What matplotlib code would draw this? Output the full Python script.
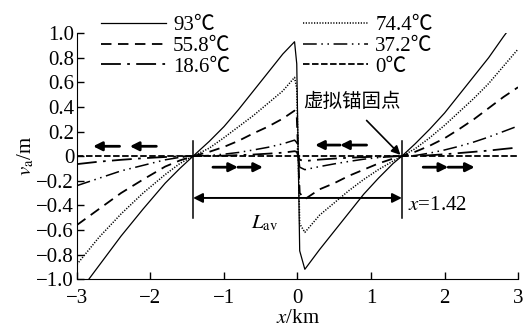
import matplotlib
matplotlib.use("Agg")
import matplotlib.pyplot as plt

plt.rcParams['font.family'] = ['Liberation Serif', 'Noto Sans CJK SC', 'DejaVu Sans']
plt.rcParams['mathtext.fontset'] = 'stix'
plt.rcParams['font.size'] = 15

# positions along the pipe (km)
x_km = [-3.0, -2.7, -2.4, -2.1, -1.8, -1.6, -1.42, -1.2, -1.0, -0.8, -0.6,
        -0.4, -0.2, -0.04, -0.01, 0.03, 0.10, 0.3, 0.5, 0.7, 0.9, 1.1, 1.3,
        1.42, 1.6, 1.8, 2.0, 2.2, 2.4, 2.6, 2.8, 3.0]

# axial displacement v_a (m) for each temperature
v_93 = [-1.13, -0.89, -0.65, -0.43, -0.22, -0.10, 0.0, 0.12, 0.24, 0.38, 0.53,
        0.68, 0.83, 0.93, 0.75, -0.77, -0.92, -0.76, -0.61, -0.46, -0.31, -0.18,
        -0.06, 0.0, 0.10, 0.22, 0.35, 0.50, 0.65, 0.80, 0.97, 1.13]
v_744 = [-0.88, -0.66, -0.47, -0.30, -0.15, -0.06, 0.0, 0.065, 0.15, 0.24, 0.33,
         0.43, 0.53, 0.64, 0.55, -0.55, -0.62, -0.48, -0.38, -0.28, -0.19, -0.11,
         -0.04, 0.0, 0.06, 0.15, 0.25, 0.36, 0.47, 0.59, 0.73, 0.87]
v_558 = [-0.56, -0.43, -0.30, -0.19, -0.085, -0.035, 0.0, 0.035, 0.075, 0.125,
         0.185, 0.24, 0.305, 0.37, 0.32, -0.30, -0.35, -0.27, -0.22, -0.16, -0.11,
         -0.06, -0.02, 0.0, 0.035, 0.085, 0.145, 0.22, 0.30, 0.39, 0.48, 0.56]
v_372 = [-0.24, -0.18, -0.12, -0.075, -0.03, -0.01, 0.0, 0.005, 0.016, 0.03,
         0.05, 0.072, 0.10, 0.13, 0.11, -0.09, -0.11, -0.085, -0.063, -0.043,
         -0.025, -0.012, -0.003, 0.0, 0.005, 0.025, 0.05, 0.08, 0.115, 0.155,
         0.20, 0.245]
v_186 = [-0.065, -0.045, -0.03, -0.017, -0.007, -0.002, 0.0, 0.001, 0.004, 0.008,
         0.013, 0.02, 0.028, 0.04, 0.035, -0.03, -0.04, -0.028, -0.02, -0.013,
         -0.008, -0.004, -0.001, 0.0, 0.002, 0.007, 0.015, 0.025, 0.035, 0.045,
         0.058, 0.07]
v_0 = [0.0] * len(x_km)

x_anchor = 1.42

fig = plt.figure(figsize=(5.27, 3.28), dpi=100)
ax = fig.add_axes([0.146, 0.149, 0.837, 0.750])

ax.plot(x_km, v_93, color='k', lw=0.9, label='93℃')
ax.plot(x_km, v_558, color='k', lw=1.3, dashes=(5.8, 3.6), label='55.8℃')
ax.plot(x_km, v_186, color='k', lw=1.3, dashes=(11, 3.5, 1.5, 3.5), label='18.6℃')
ax.plot(x_km, v_744, color='k', lw=1.1, dashes=(0.8, 1.0), label='74.4℃')
ax.plot(x_km, v_372, color='k', lw=1.1, dashes=(9, 3, 1, 3, 1, 3), label='37.2℃')
ax.plot(x_km, v_0, color='k', lw=1.3, dashes=(3.6, 1.4), label='0℃')

ax.set_xlim(-3, 3)
ax.set_ylim(-1, 1)
ax.set_xticks([-3, -2, -1, 0, 1, 2, 3])
ax.set_yticks([-1.0, -0.8, -0.6, -0.4, -0.2, 0, 0.2, 0.4, 0.6, 0.8, 1.0])
ax.set_yticklabels(['−1.0', '−0.8', '−0.6', '−0.4', '−0.2', '0',
                    '0.2', '0.4', '0.6', '0.8', '1.0'])
ax.tick_params(direction='in', length=5, width=1)
ax.tick_params(axis='x', pad=7)
ax.tick_params(axis='y', pad=2)
ax.spines['top'].set_visible(False)
ax.spines['right'].set_visible(False)
ax.set_xlabel('$x$/km', labelpad=1)
ax.set_ylabel(r'$v_{\mathrm{a}}$/m', labelpad=0)

# vertical markers at the virtual anchor points
for xa in (-x_anchor, x_anchor):
    ax.plot([xa, xa], [0.12, -0.50], color='k', lw=1.1)

ax.annotate('', xy=(-x_anchor, -0.34), xytext=(x_anchor, -0.34),
            arrowprops=dict(arrowstyle='<|-|>', color='k', lw=1.4,
                            mutation_scale=14, shrinkA=0, shrinkB=0))
ax.text(-0.45, -0.55, r'$L_{\mathrm{av}}$', ha='center', va='center')
ax.text(1.50, -0.40, '$x$=1.42', ha='left', va='center')

# movement arrows
moves = [((-2.42, 0.08), (-2.78, 0.08)), ((-1.92, 0.08), (-2.28, 0.08)),
         ((-1.15, -0.09), (-0.81, -0.09)), ((-0.81, -0.09), (-0.47, -0.09)),
         ((0.58, 0.09), (0.24, 0.09)), ((0.94, 0.09), (0.58, 0.09)),
         ((1.71, -0.09), (2.05, -0.09)), ((2.05, -0.09), (2.41, -0.09))]
for tail, head in moves:
    ax.annotate('', xy=head, xytext=tail,
                arrowprops=dict(arrowstyle='-|>', color='k', lw=2.0,
                                mutation_scale=13, shrinkA=0, shrinkB=0))

ax.text(0.08, 0.44, '虚拟锚固点', ha='left', va='center', fontsize=14)
ax.annotate('', xy=(1.40, 0.01), xytext=(0.94, 0.29),
            arrowprops=dict(arrowstyle='-|>', color='k', lw=1.2,
                            mutation_scale=13, shrinkA=0, shrinkB=0))

ax.legend(ncol=2, loc='upper left', bbox_to_anchor=(0.055, 1.07), frameon=False,
          handlelength=3.1, handletextpad=0.35, labelspacing=0.05,
          columnspacing=3.5, borderpad=0, borderaxespad=0)

fig.savefig('out.png', dpi=100)
